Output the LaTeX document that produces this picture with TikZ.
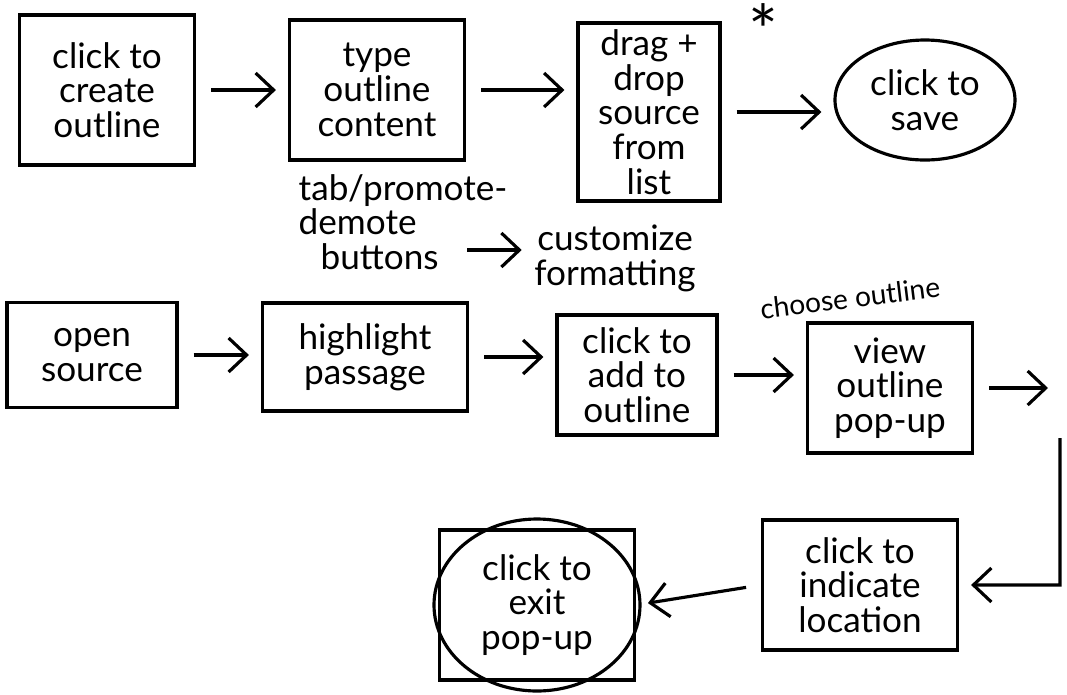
\documentclass[tikz,border=0pt]{standalone}
\usepackage{fontspec}
\setmainfont{Lato}
\usetikzlibrary{arrows.meta,shapes.geometric}

\begin{document}
\begin{tikzpicture}[
		sketchbox/.style={draw, line width=0.9pt, align=center, inner sep=0pt},
		note/.style={align=left, inner sep=0pt},
		arr/.style={-{Straight Barb[length=1.8mm,width=3.4mm]}, line width=0.9pt, shorten <=0.15cm, shorten >=0.12cm},
		font=\fontsize{10}{9.9}\selectfont
	]
		\useasboundingbox (0,0) rectangle (10.67,-6.95);

		% first row
		\node[sketchbox, minimum width=1.75cm, minimum height=1.5cm] (create) at (1.07,-0.9) {click to\\create\\outline};
		\node[sketchbox, minimum width=1.75cm, minimum height=1.4cm] (type) at (3.77,-0.9) {type\\outline\\content};
		\node[sketchbox, minimum width=1.42cm, minimum height=1.78cm] (drag) at (6.49,-1.12) {drag +\\drop\\source\\from\\list};
		\node[font=\fontsize{20}{20}\selectfont, inner sep=0pt, anchor=north] (star) at (7.63,-0.03) {*};
		\node[sketchbox, ellipse, minimum width=1.8cm, minimum height=1.2cm] (save) at (9.25,-1.0) {click to\\save};

		\node[note, anchor=west] (tab) at (2.98,-2.22) {tab/promote-\\demote\\\hspace{0.22cm}buttons};
		\node[note, align=center] (custom) at (6.15,-2.58) {customize\\formatting};
		\coordinate (btn) at (4.67,-2.5);

		\draw[arr] (create.east) -- (type.west);
		\draw[arr] (type.east) -- (type.east -| drag.west);
		\draw[arr] (drag.east) -- (save.west |- drag.east);
		\draw[arr, shorten <=0pt] (btn) -- (btn -| custom.west);

		% second row
		\node[sketchbox, minimum width=1.7cm, minimum height=1.05cm] (open) at (0.92,-3.55) {open\\source};
		\node[sketchbox, minimum width=2.05cm, minimum height=1.08cm] (highlight) at (3.65,-3.57) {highlight\\passage};
		\node[sketchbox, minimum width=1.6cm, minimum height=1.2cm] (add) at (6.37,-3.75) {click to\\add to\\outline};
		\node[sketchbox, minimum width=1.65cm, minimum height=1.3cm] (view) at (8.9,-3.88) {view\\outline\\pop-up};
		\node[inner sep=0pt, rotate=7, font=\fontsize{8}{8}\selectfont] (choose) at (8.5,-2.98) {choose outline};

		\draw[arr] (open.east) -- (open.east -| highlight.west);
		\draw[arr] (highlight.east) -- (highlight.east -| add.west);
		\draw[arr] (add.east) -- (add.east -| view.west);

		% way back
		\node[sketchbox, minimum width=1.95cm, minimum height=1.3cm] (indicate) at (8.6,-5.85) {click to\\indicate\\location};
		\node[sketchbox, minimum width=1.95cm, minimum height=1.5cm] (exit) at (5.37,-6.05) {click to\\exit\\pop-up};
		\draw[line width=0.9pt] (exit.center) ellipse [x radius=1.03cm, y radius=0.86cm];

		\coordinate (turn) at (10.6,-3.88);
		\draw[arr] (view.east) -- (turn);
		\draw[arr] ([yshift=-0.35cm]turn) -- ++(0,-1.62) -- (indicate.east);
		\draw[arr] (indicate.west) -- (exit.west -| exit.east);

	\end{tikzpicture}
\end{document}
